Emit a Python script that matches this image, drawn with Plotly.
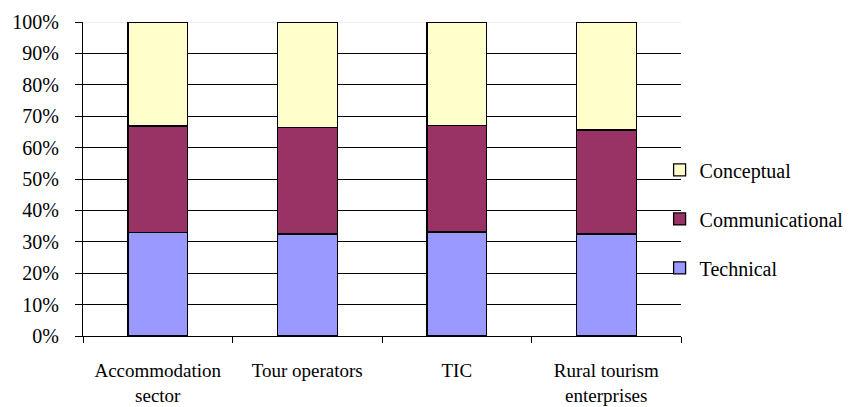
import plotly.graph_objects as go

categories = ["Accommodation<br>sector", "Tour operators", "TIC", "Rural tourism<br>enterprises"]
technical = [33.0, 32.5, 33.1, 32.5]
communicational = [33.9, 33.9, 33.9, 33.1]
conceptual = [33.1, 33.6, 33.0, 34.4]
y_ticks = [0, 10, 20, 30, 40, 50, 60, 70, 80, 90, 100]
y_tick_text = [f"{v}%" for v in y_ticks]

series = [
    ("Technical", technical, "#9999FF", 3),
    ("Communicational", communicational, "#993366", 2),
    ("Conceptual", conceptual, "#FFFFCC", 1),
]

FONT = "'Liberation Serif', 'Times New Roman', Tinos, 'DejaVu Serif', serif"

fig = go.Figure()
for name, vals, col, rank in series:
    fig.add_trace(go.Bar(
        x=categories, y=vals, name=name,
        marker=dict(color=col, line=dict(color="black", width=1.3)),
        width=0.4, legendrank=rank, legendgroup=name,
    ))

fig.update_layout(
    barmode="stack",
    width=850, height=407,
    margin=dict(l=83, r=169, t=22, b=71, autoexpand=False),
    paper_bgcolor="white", plot_bgcolor="white",
    font=dict(family=FONT, size=20, color="black"),
    showlegend=True,
    legend=dict(
        xref="container", x=0.776, xanchor="left",
        y=0.373, yanchor="middle",
        traceorder="grouped", tracegroupgap=20,
        font=dict(family=FONT, size=20, color="black"),
        bgcolor="rgba(0,0,0,0)",
        itemwidth=30,
    ),
    xaxis=dict(
        showline=True, linecolor="black", linewidth=1.3,
        ticks="outside", ticklen=6, tickwidth=1.3, tickcolor="black",
        tickson="boundaries", showgrid=False, tickangle=0, automargin=False,
        tickfont=dict(family=FONT, size=19),
        ticklabelstandoff=17,
    ),
    yaxis=dict(
        range=[0, 100], tickvals=y_ticks, ticktext=y_tick_text,
        showline=True, linecolor="black", linewidth=1.3,
        ticks="outside", ticklen=7, tickwidth=1.3, tickcolor="black",
        showgrid=False, zeroline=False, automargin=False,
        tickfont=dict(family=FONT, size=20),
        ticklabelstandoff=12,
        minor=dict(tickvals=[10, 20, 30, 40, 50, 60, 70, 80, 90], showgrid=True,
                   gridcolor="black", gridwidth=1.3, ticks=""),
    ),
    shapes=[dict(type="line", xref="paper", yref="y", x0=0, x1=1, y0=100, y1=100,
                 line=dict(color="#dddddd", width=1), layer="below")],
)

fig.write_html("out.html")
